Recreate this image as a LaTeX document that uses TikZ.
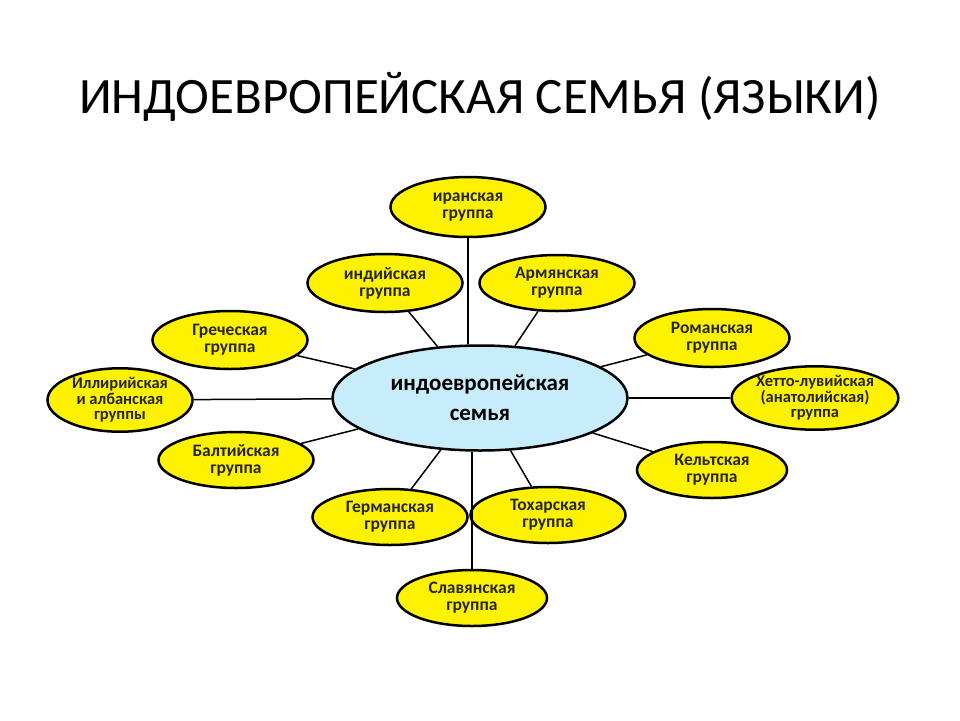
\documentclass[tikz,border=0pt]{standalone}
\usepackage{fontspec}
\setmainfont{Carlito}
\usetikzlibrary{shapes.geometric}
\begin{document}
\begin{tikzpicture}[x=1pt,y=-1pt,
  grp/.style={ellipse,draw=black,line width=2.5pt,fill=yellow,inner sep=0pt,
    font=\fontsize{17.5}{17}\selectfont\bfseries,align=center,text=black!85},
  conn/.style={line width=1.5pt,black}]
\useasboundingbox (0,0) rectangle (960,720);
\node (title) at (480,97) {\fontsize{51}{52}\selectfont ИНДОЕВРОПЕЙСКАЯ СЕМЬЯ (ЯЗЫКИ)};
\node[ellipse,draw,line width=2.5pt,fill=cyan!22,minimum width=295pt,minimum height=105pt,align=center,font=\fontsize{23}{30}\selectfont\bfseries] (c) at (480,398) {индоевропейская\\семья};
\node[grp,minimum width=155pt,minimum height=60pt] (ir) at (468,207) {иранская\\группа};
\node[grp,minimum width=155pt,minimum height=58pt] (in) at (385,283) {индийская\\группа};
\node[grp,minimum width=155pt,minimum height=56pt] (ar) at (557,283) {Армянская\\группа};
\node[grp,minimum width=155pt,minimum height=58pt] (gr) at (230,340) {Греческая\\группа};
\node[grp,minimum width=155pt,minimum height=58pt] (ro) at (712,338) {Романская\\группа};
\node[grp,minimum width=145pt,minimum height=56pt,font=\fontsize{16.5}{15.5}\selectfont\bfseries] (il) at (120,400) {Иллирийская\\и албанская\\группы};
\node[grp,minimum width=165pt,minimum height=56pt,font=\fontsize{16.5}{15.5}\selectfont\bfseries] (he) at (815,398) {Хетто-лувийская\\(анатолийская)\\группа};
\node[grp,minimum width=155pt,minimum height=56pt] (ba) at (236,460) {Балтийская\\группа};
\node[grp,minimum width=150pt,minimum height=56pt] (ke) at (712,470) {Кельтская\\группа};
\node[grp,minimum width=155pt,minimum height=56pt] (ge) at (390,517) {Германская\\группа};
\node[grp,minimum width=155pt,minimum height=56pt] (to) at (548,515) {Тохарская\\группа};
\node[grp,minimum width=150pt,minimum height=56pt] (sl) at (472,598) {Славянская\\группа};
\draw[conn] (ir.south) -- (c.north -| ir.south);
\draw[conn] (sl.north) -- (c.south -| sl.north);
\foreach \n in {in,ar,gr,ro,il,he,ba,ke,ge,to} \draw[conn] (c) -- (\n);
\end{tikzpicture}
\end{document}
